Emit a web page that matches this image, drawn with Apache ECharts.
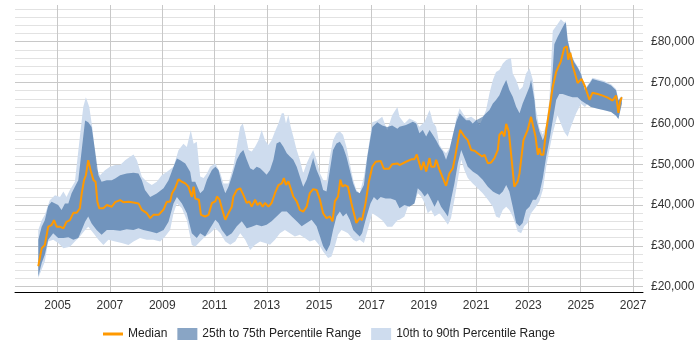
<!DOCTYPE html>
<html>
<head>
<meta charset="utf-8">
<script src="https://cdn.jsdelivr.net/npm/echarts@6/dist/echarts.min.js"></script>
<style>
  html, body { margin: 0; padding: 0; background: #fff; }
  #chart { width: 700px; height: 350px; }
</style>
</head>
<body>
<div id="chart"></div>
<script>
// [decimal year, £] pairs
const median = [
  [2004.26,25000],[2004.39,29400],[2004.51,30200],[2004.64,34700],[2004.77,35100],[2004.86,36300],[2004.96,34700],[2005.09,34700],
  [2005.22,34300],[2005.34,35900],[2005.47,36300],[2005.60,38100],[2005.73,38100],[2005.85,39200],[2005.92,42800],[2006.01,46100],
  [2006.08,47300],[2006.17,51000],[2006.26,48500],[2006.37,46100],[2006.45,45700],[2006.52,40800],[2006.59,39200],[2006.75,39200],
  [2006.88,40000],[2007.07,39600],[2007.20,40700],[2007.39,41200],[2007.51,40700],[2007.71,40800],[2007.90,40600],[2008.09,40400],
  [2008.22,38800],[2008.41,38000],[2008.54,36800],[2008.66,37600],[2008.86,37600],[2009.05,38900],[2009.17,40800],[2009.30,40800],
  [2009.37,42800],[2009.49,44100],[2009.62,46300],[2009.75,45700],[2009.88,45300],[2010.00,44500],[2010.13,42000],[2010.20,44500],
  [2010.26,41600],[2010.40,41300],[2010.48,37600],[2010.64,37200],[2010.77,37600],[2010.90,40500],[2011.03,40900],[2011.09,42100],
  [2011.19,41300],[2011.28,39200],[2011.41,36400],[2011.53,38000],[2011.66,39600],[2011.72,42100],[2011.85,43700],[2011.98,44100],
  [2012.10,42500],[2012.23,40500],[2012.33,40900],[2012.42,39600],[2012.55,41300],[2012.64,40000],[2012.74,40600],[2012.84,39600],
  [2012.93,40500],[2013.06,39600],[2013.18,40500],[2013.31,42900],[2013.44,44900],[2013.57,45300],[2013.65,46600],[2013.73,44900],
  [2013.82,45800],[2013.91,44100],[2014.01,42100],[2014.14,40900],[2014.26,38800],[2014.39,38400],[2014.52,39600],[2014.64,42900],
  [2014.77,43900],[2014.90,43700],[2015.03,41300],[2015.15,38000],[2015.28,36800],[2015.41,37200],[2015.51,36000],[2015.60,40900],
  [2015.72,42100],[2015.81,46200],[2015.89,44500],[2015.98,44900],[2016.10,44500],[2016.23,40500],[2016.36,37200],[2016.42,35600],
  [2016.55,36800],[2016.64,36300],[2016.77,40400],[2016.90,45700],[2017.03,49400],[2017.16,50600],[2017.35,50800],[2017.47,48900],
  [2017.67,48900],[2017.79,50000],[2017.99,50200],[2018.07,49800],[2018.32,50600],[2018.52,51200],[2018.64,51200],[2018.73,52400],
  [2018.83,50200],[2018.90,48600],[2018.99,50600],[2019.09,48200],[2019.22,51500],[2019.28,49400],[2019.41,49400],[2019.47,51100],
  [2019.60,48600],[2019.73,46600],[2019.85,44700],[2019.92,44900],[2019.98,47800],[2020.11,49000],[2020.21,52300],[2020.30,55500],
  [2020.39,58400],[2020.46,58500],[2020.55,56800],[2020.68,55900],[2020.81,53500],[2020.94,53300],[2021.06,52700],[2021.13,53100],
  [2021.23,51900],[2021.32,52300],[2021.45,50200],[2021.57,50400],[2021.70,51500],[2021.83,53500],[2021.89,57200],[2021.99,58000],
  [2022.08,56800],[2022.15,59900],[2022.25,58000],[2022.34,52300],[2022.40,51900],[2022.46,44500],[2022.59,45800],[2022.66,47800],
  [2022.72,48200],[2022.81,55900],[2022.97,58400],[2023.10,61600],[2023.17,61200],[2023.27,56800],[2023.36,52300],[2023.42,53900],
  [2023.48,52300],[2023.57,52300],[2023.68,58400],[2023.80,63300],[2023.93,69000],[2024.06,72600],[2024.24,75200],[2024.37,78500],
  [2024.47,78900],[2024.52,75600],[2024.60,77300],[2024.69,74200],[2024.88,69900],[2025.03,70900],[2025.16,69100],[2025.33,65800],
  [2025.45,67500],[2025.65,67200],[2025.84,66800],[2026.03,66300],[2026.22,65600],[2026.35,66800],[2026.44,62600],[2026.50,65200],
  [2026.57,66400]
]

const p75 = [
  [2004.26,31500],[2004.39,34700],[2004.51,36300],[2004.64,39800],[2004.77,40800],[2004.90,40400],[2005.02,40000],[2005.15,38800],
  [2005.28,40400],[2005.41,40400],[2005.53,42800],[2005.66,44500],[2005.79,46100],[2005.92,53400],[2006.05,60700],[2006.17,60300],
  [2006.30,59100],[2006.43,53400],[2006.56,47300],[2006.68,45700],[2006.88,46100],[2007.07,46100],[2007.20,46500],[2007.39,47300],
  [2007.64,47700],[2007.90,47900],[2008.09,47700],[2008.22,46100],[2008.34,43700],[2008.54,42000],[2008.79,42800],[2009.05,44100],
  [2009.24,46100],[2009.43,49400],[2009.56,51400],[2009.69,51000],[2009.88,50200],[2010.07,48100],[2010.13,45700],[2010.26,45700],
  [2010.45,42900],[2010.58,43700],[2010.71,46200],[2010.90,48600],[2011.03,49400],[2011.15,48600],[2011.28,45300],[2011.41,42900],
  [2011.53,44500],[2011.66,47000],[2011.85,51100],[2011.98,52700],[2012.10,53500],[2012.23,51100],[2012.36,49000],[2012.48,48600],
  [2012.61,49400],[2012.74,49000],[2012.87,48200],[2012.99,47400],[2013.12,48600],[2013.25,51100],[2013.37,55100],[2013.50,55500],
  [2013.63,54300],[2013.76,52700],[2013.88,51900],[2014.01,51100],[2014.14,49400],[2014.26,47000],[2014.39,44500],[2014.52,46200],
  [2014.64,48600],[2014.77,51500],[2014.90,48600],[2015.03,46600],[2015.15,43700],[2015.28,43300],[2015.41,48600],[2015.53,53500],
  [2015.66,55100],[2015.79,55500],[2015.91,54300],[2016.04,51900],[2016.17,48600],[2016.30,45300],[2016.42,43300],[2016.55,42900],
  [2016.71,44900],[2016.84,51800],[2017.03,59100],[2017.22,60300],[2017.41,59500],[2017.60,59100],[2017.79,59500],[2017.99,58700],
  [2018.07,59200],[2018.32,59600],[2018.58,60400],[2018.71,60000],[2018.83,57600],[2018.96,58400],[2019.09,56800],[2019.22,58400],
  [2019.34,57200],[2019.47,55900],[2019.60,54300],[2019.73,53100],[2019.85,51100],[2019.98,53500],[2020.11,57200],[2020.24,60400],
  [2020.37,62500],[2020.49,61600],[2020.62,60800],[2020.75,60800],[2020.87,60000],[2021.00,60800],[2021.13,61200],[2021.25,61600],
  [2021.38,62500],[2021.51,63300],[2021.64,64900],[2021.76,65700],[2021.89,66900],[2022.02,69000],[2022.15,70600],[2022.27,68200],
  [2022.40,66500],[2022.53,64100],[2022.66,62500],[2022.78,64900],[2022.91,66900],[2023.04,69000],[2023.10,70600],[2023.23,65700],
  [2023.29,61200],[2023.42,58000],[2023.55,55900],[2023.68,58000],[2023.80,63300],[2023.93,73100],[2023.99,79400],[2024.11,81100],
  [2024.24,82700],[2024.37,84300],[2024.43,84700],[2024.50,80300],[2024.62,77000],[2024.75,75000],[2024.88,73700],[2025.01,72100],
  [2025.16,68100],[2025.33,69700],[2025.45,70900],[2025.65,70500],[2025.90,70100],[2026.16,69300],[2026.35,68100],[2026.44,65600],
  [2026.57,66500]
]

const p90 = [
  [2004.26,33900],[2004.39,36300],[2004.51,37600],[2004.70,41200],[2004.90,42400],[2005.09,42000],[2005.22,43300],[2005.34,42000],
  [2005.47,43700],[2005.66,45700],[2005.85,56700],[2005.98,64000],[2006.08,66400],[2006.21,64000],[2006.34,58300],[2006.49,48900],
  [2006.62,47300],[2006.81,48500],[2007.00,49400],[2007.20,49800],[2007.39,49800],[2007.58,51000],[2007.77,51800],[2007.90,52400],
  [2008.03,51000],[2008.22,46900],[2008.41,45700],[2008.60,44900],[2008.79,45700],[2008.98,47300],[2009.17,48100],[2009.43,49400],
  [2009.62,53400],[2009.81,55000],[2009.94,54200],[2010.09,58300],[2010.20,55000],[2010.32,55500],[2010.45,47000],[2010.58,46600],
  [2010.71,47800],[2010.83,49400],[2011.03,50200],[2011.22,47800],[2011.34,45300],[2011.53,45300],[2011.72,49400],[2011.85,54300],
  [2011.98,59200],[2012.08,60000],[2012.17,57600],[2012.30,53500],[2012.42,53100],[2012.55,54300],[2012.68,55900],[2012.80,58400],
  [2012.93,55900],[2013.06,54700],[2013.18,55900],[2013.31,58000],[2013.44,60000],[2013.57,62500],[2013.65,62500],[2013.73,60000],
  [2013.82,62100],[2013.91,59200],[2014.01,56800],[2014.14,53500],[2014.26,51100],[2014.39,47800],[2014.52,50200],[2014.64,51900],
  [2014.77,53500],[2014.90,51100],[2015.03,47800],[2015.15,46200],[2015.28,45800],[2015.41,51900],[2015.53,55900],[2015.66,57600],
  [2015.79,58000],[2015.91,57200],[2016.04,54300],[2016.17,50200],[2016.30,46200],[2016.42,43700],[2016.55,42900],[2016.71,46900],
  [2016.84,52200],[2017.03,60300],[2017.22,60700],[2017.41,61600],[2017.60,58300],[2017.79,62000],[2017.99,64000],[2018.07,61600],
  [2018.26,60000],[2018.45,61200],[2018.71,60400],[2018.83,59200],[2019.03,60400],[2019.22,63300],[2019.28,62000],[2019.34,60400],
  [2019.47,59200],[2019.60,54700],[2019.73,53500],[2019.85,52700],[2019.98,53900],[2020.11,56800],[2020.24,61200],[2020.37,63700],
  [2020.49,62500],[2020.62,61200],[2020.81,61600],[2021.00,60800],[2021.13,59600],[2021.25,61200],[2021.38,63300],[2021.51,67400],
  [2021.64,70600],[2021.76,72600],[2021.89,73100],[2022.02,74700],[2022.15,75500],[2022.33,76000],[2022.40,72200],[2022.53,70600],
  [2022.66,68200],[2022.78,69000],[2022.91,72200],[2023.04,73500],[2023.17,70600],[2023.29,63300],[2023.42,58800],[2023.55,57200],
  [2023.68,59600],[2023.80,65700],[2023.93,82700],[2024.11,84300],[2024.24,85500],[2024.37,84700],[2024.43,85000],[2024.50,80600],
  [2024.62,77300],[2024.75,75300],[2024.88,74000],[2025.01,72400],[2025.16,68400],[2025.33,70000],[2025.45,71200],[2025.65,70800],
  [2025.90,70400],[2026.16,69600],[2026.35,68400],[2026.44,65900],[2026.57,66800]
]

const p25 = [
  [2004.26,22500],[2004.39,25800],[2004.51,27800],[2004.64,31500],[2004.83,33100],[2005.02,31900],[2005.22,31900],[2005.41,32100],
  [2005.60,31500],[2005.79,31900],[2005.92,33900],[2006.05,35900],[2006.17,37200],[2006.30,35500],[2006.49,33900],[2006.68,32700],
  [2006.88,33900],[2007.13,33900],[2007.39,33700],[2007.64,34100],[2007.90,33900],[2008.09,34300],[2008.28,33900],[2008.54,33500],
  [2008.79,33100],[2009.05,33900],[2009.24,35900],[2009.43,40400],[2009.56,42000],[2009.75,40400],[2009.94,38000],[2010.13,33100],
  [2010.32,31900],[2010.45,33100],[2010.64,32300],[2010.83,34300],[2011.03,36400],[2011.15,35600],[2011.28,33900],[2011.47,32300],
  [2011.66,33100],[2011.85,34800],[2012.04,36000],[2012.23,34300],[2012.42,34700],[2012.61,35200],[2012.80,34800],[2012.99,35200],
  [2013.18,36000],[2013.37,37200],[2013.57,38400],[2013.76,38400],[2013.95,37200],[2014.14,36000],[2014.33,34800],[2014.52,35600],
  [2014.71,36400],[2014.90,34800],[2015.03,32300],[2015.15,29900],[2015.28,28600],[2015.41,30300],[2015.53,33900],[2015.66,37200],
  [2015.79,38400],[2015.91,37200],[2016.04,38000],[2016.17,36400],[2016.30,33900],[2016.42,33100],[2016.55,32300],[2016.64,33100],
  [2016.77,36300],[2016.96,40400],[2017.09,42000],[2017.22,41200],[2017.35,42000],[2017.54,41600],[2017.73,41600],[2017.92,41200],
  [2018.07,39200],[2018.26,40000],[2018.45,39600],[2018.64,40400],[2018.77,44100],[2018.90,43300],[2019.03,42100],[2019.15,42900],
  [2019.28,41300],[2019.41,39600],[2019.54,41300],[2019.66,39600],[2019.79,38400],[2019.92,37200],[2020.04,41300],[2020.17,45300],
  [2020.30,50200],[2020.43,53500],[2020.55,51500],[2020.68,49400],[2020.87,48200],[2021.06,47400],[2021.25,46200],[2021.45,44500],
  [2021.64,43300],[2021.76,42900],[2021.89,42500],[2022.02,43300],[2022.15,44900],[2022.27,43300],[2022.40,39600],[2022.53,35600],
  [2022.66,34800],[2022.78,35600],[2022.91,38800],[2023.04,39600],[2023.17,41300],[2023.29,41300],[2023.42,42900],[2023.55,46600],
  [2023.68,51900],[2023.80,55900],[2023.93,60800],[2024.06,65700],[2024.18,67200],[2024.31,67200],[2024.50,66800],[2024.69,66400],
  [2024.88,66400],[2025.01,65600],[2025.20,64800],[2025.39,64000],[2025.65,63600],[2025.90,63200],[2026.16,62800],[2026.35,61900],
  [2026.44,61100],[2026.57,64800]
]

const p10 = [
  [2004.26,22100],[2004.39,24200],[2004.51,26200],[2004.64,31100],[2004.83,31500],[2005.02,30700],[2005.22,29400],[2005.47,29800],
  [2005.66,31100],[2005.85,32300],[2006.05,33900],[2006.17,34700],[2006.37,33100],[2006.56,31500],[2006.75,30200],[2006.94,31500],
  [2007.20,31100],[2007.45,30700],[2007.71,30200],[2007.90,31100],[2008.15,31900],[2008.41,31500],[2008.66,31500],[2008.92,31100],
  [2009.11,32300],[2009.30,33900],[2009.43,38000],[2009.56,40400],[2009.75,39200],[2009.94,36300],[2010.13,30200],[2010.26,29800],
  [2010.45,31100],[2010.64,32300],[2010.83,33100],[2011.03,34300],[2011.22,33100],[2011.41,31100],[2011.60,30300],[2011.79,31100],
  [2011.98,33100],[2012.17,31500],[2012.36,29000],[2012.55,30300],[2012.74,31100],[2012.93,30700],[2013.12,30300],[2013.31,31500],
  [2013.50,33100],[2013.69,33900],[2013.88,33100],[2014.07,32300],[2014.26,32700],[2014.45,31900],[2014.64,31100],[2014.83,31500],
  [2015.03,29900],[2015.15,28600],[2015.34,27000],[2015.47,27400],[2015.60,29900],[2015.72,32700],[2015.85,33900],[2015.98,33500],
  [2016.10,33100],[2016.30,31500],[2016.42,31100],[2016.55,31500],[2016.71,30700],[2016.84,33500],[2017.03,38000],[2017.22,37200],
  [2017.41,36300],[2017.60,34700],[2017.79,34700],[2017.99,36300],[2018.07,36400],[2018.26,37200],[2018.39,39600],[2018.64,40400],
  [2018.77,42900],[2018.90,42100],[2019.03,40500],[2019.15,38000],[2019.28,38800],[2019.41,37200],[2019.60,38000],[2019.79,36400],
  [2019.92,35200],[2020.04,36800],[2020.17,41300],[2020.30,46200],[2020.43,51100],[2020.55,48600],[2020.68,46600],[2020.87,45300],
  [2021.06,44100],[2021.25,42900],[2021.45,41300],[2021.64,39600],[2021.76,37200],[2021.89,36800],[2022.02,38800],[2022.15,39600],
  [2022.27,38800],[2022.40,37200],[2022.53,34800],[2022.59,33500],[2022.72,33100],[2022.84,34800],[2022.97,35600],[2023.10,38000],
  [2023.29,39600],[2023.42,40900],[2023.55,43700],[2023.68,49400],[2023.80,53500],[2023.93,57600],[2024.11,62000],[2024.24,59900],
  [2024.37,57900],[2024.50,56700],[2024.62,59100],[2024.82,62400],[2025.01,64800],[2025.16,64000],[2025.26,64800],[2025.39,64000],
  [2025.65,63600],[2025.90,63200],[2026.16,62800],[2026.35,61900],[2026.44,61100],[2026.57,64800]
]

const yearTicks = [2005, 2007, 2009, 2011, 2013, 2015, 2017, 2019, 2021, 2023, 2025, 2027]
const salaryLabels = [20000, 30000, 40000, 50000, 60000, 70000, 80000]
const salaryGrid = [20000, 22000, 24000, 26000, 28000, 30000, 32000, 34000, 36000, 38000, 40000, 42000,
  44000, 46000, 48000, 50000, 52000, 54000, 56000, 58000, 60000, 62000, 64000, 66000, 68000, 70000,
  72000, 74000, 76000, 78000, 80000, 82000, 84000, 86000, 88000]

const FONT = "'Liberation Sans', Arial, sans-serif"
const ORANGE = '#ff9900'
const LIGHT = '#cedcee'
const DARK = 'rgba(20,75,140,0.5)'

// polygon between an upper and a lower percentile line
const band = (name, upper, lower, color, z) => ({
  name,
  type: 'custom',
  z,
  silent: true,
  itemStyle: { color },
  data: [upper[0]],
  renderItem: (params, api) => {
    const pts = upper.map(p => api.coord(p)).concat(lower.slice().reverse().map(p => api.coord(p)))
    return { type: 'polygon', shape: { points: pts }, style: { fill: color } }
  }
})

const chart = echarts.init(document.getElementById('chart'), null, { renderer: 'canvas' })

chart.setOption({
  animation: false,
  textStyle: { fontFamily: FONT },
  grid: { left: 15, right: 57, top: 5, bottom: 58, containLabel: false },
  legend: {
    left: 103,
    top: 328,
    padding: 0,
    itemWidth: 20,
    itemHeight: 12,
    itemGap: 10,
    textStyle: { fontFamily: FONT, fontSize: 12, color: '#222' },
    data: [
      { name: 'Median', icon: 'path://M0,0L20,0L20,3L0,3Z', itemStyle: { color: ORANGE, borderWidth: 0 } },
      { name: '25th to 75th Percentile Range', icon: 'rect' },
      { name: '10th to 90th Percentile Range', icon: 'rect' }
    ]
  },
  xAxis: {
    type: 'value',
    min: 2003.37,
    max: 2027.38,
    axisLine: { lineStyle: { color: '#000', width: 1 } },
    axisTick: { show: false, customValues: yearTicks },
    axisLabel: {
      customValues: yearTicks,
      formatter: v => String(v),
      margin: 8,
      fontSize: 12,
      color: '#333',
      fontFamily: FONT
    },
    splitLine: { show: true, lineStyle: { color: '#c8c8c8', width: 1 } }
  },
  yAxis: {
    type: 'value',
    position: 'right',
    min: 18700,
    max: 89000,
    axisLine: { show: false },
    axisTick: { show: false, customValues: salaryGrid },
    axisLabel: {
      customValues: salaryLabels,
      formatter: v => '£' + v.toLocaleString('en-GB'),
      margin: 8,
      fontSize: 12,
      color: '#333',
      fontFamily: FONT
    },
    splitLine: {
      show: true,
      lineStyle: { color: ['#c8c8c8', '#e2e2e2', '#e2e2e2', '#e2e2e2', '#e2e2e2'], width: 1 }
    }
  },
  series: [
    band('10th to 90th Percentile Range', p90, p10, LIGHT, 1),
    band('25th to 75th Percentile Range', p75, p25, DARK, 2),
    {
      name: 'Median',
      type: 'line',
      z: 3,
      data: median,
      symbol: 'none',
      showSymbol: false,
      lineStyle: { color: ORANGE, width: 2 },
      itemStyle: { color: ORANGE }
    }
  ]
})
</script>
</body>
</html>
